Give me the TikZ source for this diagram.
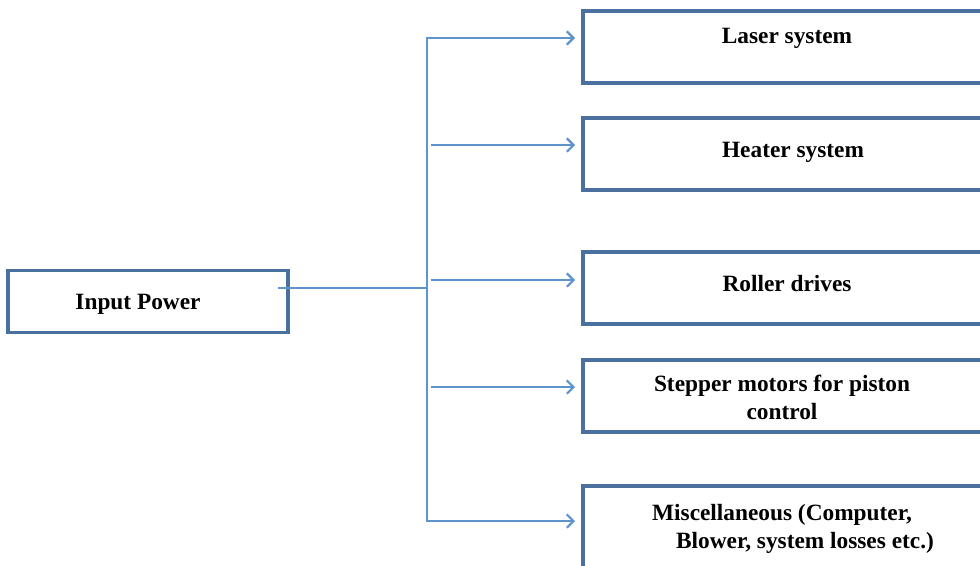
\documentclass[tikz,border=0pt]{standalone}
\usepackage{fontspec}
\setmainfont{Liberation Serif}
\usetikzlibrary{arrows.meta}
\definecolor{boxblue}{HTML}{4A70A0}
\definecolor{linkblue}{HTML}{5E93CB}
\tikzset{
  unit/.style={draw=boxblue, line width=2.3pt, inner sep=0pt, outer sep=0pt,
    minimum width=315pt, minimum height=54pt},
  wire/.style={draw=linkblue, line width=1.7pt},
  feed/.style={wire, -{Straight Barb[length=5pt,width=10pt,line width=1.6pt]}, shorten >=6pt},
  caption/.style={font=\fontsize{17.5}{21}\selectfont\bfseries, align=center, inner sep=0pt}
}
\begin{document}
\begin{tikzpicture}[x=0.75pt, y=-0.75pt]
    \useasboundingbox (0,0) rectangle (980,565);
    \clip (0,0) rectangle (980,565);
    % Source
    \node[unit, minimum width=210pt, minimum height=47pt] (input) at (148,301.5) {};
    \node[caption] (input-txt) at (138,304) {Input Power};
    % Loads
    \node[unit] (laser) at (793,47) {};
    \node[caption] (laser-txt) at (787,38) {Laser system};
    \node[unit] (heater) at (793,154) {};
    \node[caption] (heater-txt) at (793,152) {Heater system};
    \node[unit] (roller) at (793,288) {};
    \node[caption] (roller-txt) at (787,284) {Roller drives};
    \node[unit] (stepper) at (793,396) {};
    \node[caption] (stepper-txt) at (782,397) {Stepper motors for piston\\control};
    \node[unit, minimum height=63pt] (misc) at (793,528) {};
    \node[caption, align=left] (misc-txt) at (793,529) {Miscellaneous (Computer,\\\hspace{18pt}Blower, system losses etc.)};
    % Feed lines
    \coordinate (tap) at (278,288);
    \coordinate (bus) at (427,288);
    \draw[wire] (tap) -- (bus);
    \draw[feed] (bus) |- ([yshift=6.75pt]laser.west);
    \draw[feed] (431,145) -- ([yshift=6.75pt]heater.west);
    \draw[feed] (431,280) -- ([yshift=6pt]roller.west);
    \draw[feed] (431,387) -- ([yshift=6.75pt]stepper.west);
    \draw[feed] (bus) |- ([yshift=5.25pt]misc.west);
\end{tikzpicture}
\end{document}
